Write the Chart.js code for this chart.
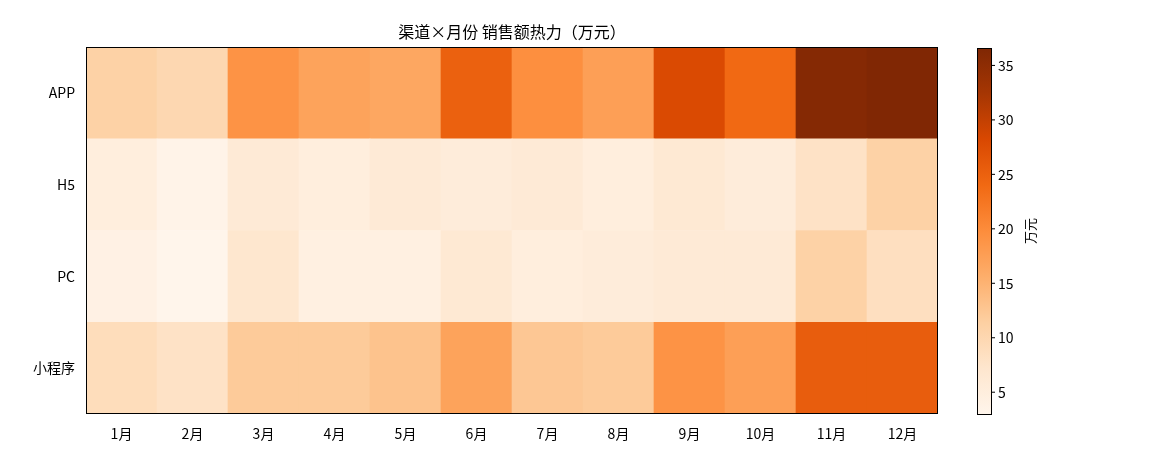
<!DOCTYPE html>
<html><head><meta charset="utf-8">
<script src="https://cdn.jsdelivr.net/npm/chart.js@4"></script>
<style>body{margin:0;background:#fff}#w{width:1170px;height:468px}</style></head>
<body><div id="w"><canvas id="c"></canvas></div>
<script>
const months=['1月','2月','3月','4月','5月','6月','7月','8月','9月','10月','11月','12月'];
const channels=['APP','H5','PC','小程序'];
const appVals=[11,10,19,17,16.5,25,19.5,17.5,28,24,36,36.5];
const h5Vals=[5,3.5,6,5,6,5.5,6,5,6.5,5.5,8,11];
const pcVals=[4,3,7,4.5,4.5,6.5,5,5.5,6,6,11,8.5];
const mpVals=[9,8,12,12,13,17,12.5,12,19,17.5,25.5,25.5];
const cbTicks=[5,10,15,20,25,30,35];
const vmin=3.0,vmax=36.6;
const stops=['#fff5eb','#fee6ce','#fdd0a2','#fdae6b','#fd8d3c','#f16913','#d94801','#a63603','#7f2704'];
function hex(h){return [1,3,5].map(i=>parseInt(h.substr(i,2),16));}
function cmap(v){let t=Math.max(0,Math.min(1,(v-vmin)/(vmax-vmin)))*8;let i=Math.min(7,Math.floor(t)),f=t-i;
const a=hex(stops[i]),b=hex(stops[i+1]);return 'rgb('+a.map((x,k)=>Math.round(x+(b[k]-x)*f)).join(',')+')';}
const rows=[['小程序',mpVals],['PC',pcVals],['H5',h5Vals],['APP',appVals]];
const datasets=rows.map(([n,v])=>({label:n,data:v.map(()=>1),backgroundColor:v.map(cmap),borderWidth:0,barPercentage:1,categoryPercentage:1}));
const FONT='"Noto Sans CJK SC","DejaVu Sans",sans-serif';
const deco={id:'deco',afterDraw(ch){const c=ch.ctx,a=ch.chartArea;c.save();
c.strokeStyle='#000';c.lineWidth=1;c.strokeRect(a.left+.5,a.top+.5,a.right-a.left-1,a.bottom-a.top-1);
c.fillStyle='#000';c.font='16px '+FONT;c.textAlign='center';c.textBaseline='alphabetic';
c.fillText('渠道×月份 销售额热力（万元）',(a.left+a.right)/2,38);
const x0=977,x1=991,y0=48,y1=414;const g=c.createLinearGradient(0,y1,0,y0);
stops.forEach((s,i)=>g.addColorStop(i/8,s));c.fillStyle=g;c.fillRect(x0,y0,x1-x0,y1-y0);
c.strokeStyle='#000';c.strokeRect(x0+.5,y0+.5,x1-x0,y1-y0);
c.font='14px '+FONT;c.textAlign='left';c.textBaseline='middle';c.fillStyle='#000';
cbTicks.forEach(t=>{const y=y1-(t-vmin)/(vmax-vmin)*(y1-y0);c.beginPath();c.moveTo(x1,y);c.lineTo(x1+4,y);c.stroke();c.fillText(String(t),x1+7,y);});
c.translate(1030,231);c.rotate(-Math.PI/2);c.textAlign='center';c.font='13px '+FONT;c.fillText('万元',0,0);
c.restore();}};
new Chart(document.getElementById('c'),{type:'bar',data:{labels:months,datasets},
options:{responsive:true,maintainAspectRatio:false,animation:false,
layout:{padding:{top:47,right:232,left:0,bottom:0}},
plugins:{legend:{display:false},tooltip:{enabled:false}},
scales:{x:{stacked:true,grid:{display:false,drawTicks:true},border:{display:false},
ticks:{color:'#000',font:{family:FONT,size:14}},afterFit(s){s.height=54;}},
y:{stacked:true,min:0,max:4,grid:{display:false},border:{display:false},
afterBuildTicks(s){s.ticks=[0.5,1.5,2.5,3.5].map(v=>({value:v}));},
ticks:{color:'#000',font:{family:FONT,size:14},callback:(v)=>rows[Math.floor(v)][0]},
afterFit(s){s.width=86;}}}},plugins:[deco]});
</script></body></html>
